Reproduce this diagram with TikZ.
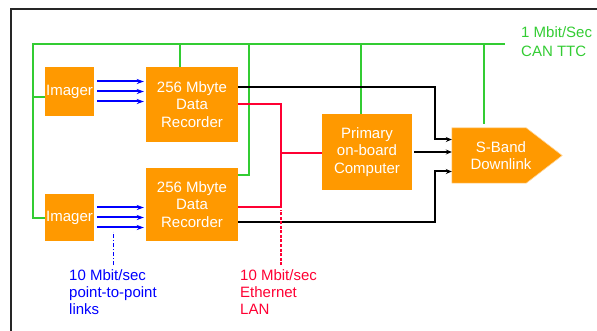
\documentclass[tikz,border=0pt]{standalone}
\usepackage{fontspec}
\setmainfont{Liberation Sans}
\usepackage{tikz}
\usetikzlibrary{arrows.meta}

\definecolor{unitorange}{HTML}{FF9900}
\definecolor{cangreen}{HTML}{33CC33}
\definecolor{lanred}{HTML}{FF0033}
\definecolor{linkblue}{HTML}{0000FF}

\tikzset{
  unit/.style={fill=unitorange, text=white, inner sep=0pt, align=center,
               font=\fontsize{15}{17.5}\selectfont},
  lbl/.style={inner sep=0pt, align=left, anchor=north west,
              font=\fontsize{15}{17}\selectfont},
  can/.style={cangreen, line width=2pt},
  lan/.style={lanred, line width=2pt},
  landash/.style={lanred, line width=1.6pt, dash pattern=on 3pt off 1.5pt},
  link/.style={linkblue, line width=2pt, -{Stealth[length=7pt,width=5pt]}},
  linkdash/.style={linkblue, line width=0.7pt, dash pattern=on 4pt off 2pt on 1pt off 2pt},
  tm/.style={black, line width=2pt, -{Stealth[length=6pt,width=5pt]}},
}

\begin{document}
\begin{tikzpicture}[x=1pt, y=-1pt]
\useasboundingbox (0,0) rectangle (597,331);

% frame
\draw[line width=1.5pt, black!85] (11,331) -- (11,9) -- (597,9);

% units
\node[unit, minimum width=49pt, minimum height=49pt]  (img1)  at (  69.5,  91.5 )  {Imager};
\node[unit, minimum width=49pt, minimum height=47pt]  (img2)  at (  69.5, 217.5 )  {Imager};
\node[unit, minimum width=92pt, minimum height=75pt]  (rec1)  at ( 192,   104.5 )  {256 Mbyte\\Data\\Recorder};
\node[unit, minimum width=92pt, minimum height=73pt]  (rec2)  at ( 192,   204.5 )  {256 Mbyte\\Data\\Recorder};
\node[unit, minimum width=90pt, minimum height=76pt]  (cpu)   at ( 367,   152   )  {Primary\\on-board\\Computer};
\node[inner sep=0pt, minimum width=110pt, minimum height=55pt] (sband) at ( 507, 155.5 ) {};
\fill[unitorange, draw=unitorange!40!white, line width=0.6pt]
    (sband.north west) -- ([xshift=-36pt]sband.north east) -- (sband.east)
    -- ([xshift=-36pt]sband.south east) -- (sband.south west) -- cycle;
\node[unit, fill=none] at ([xshift=-6pt]sband.center) {S-Band\\Downlink};

% CAN bus
\coordinate (busL) at ( 33, 44 );
\coordinate (busR) at ( 505, 44 );
\draw[can] (busR) -- (busL) |- ([yshift=-0.5pt]img2.west);
\draw[can] ([yshift=-5.5pt]img1.west) -| (busL);
\draw[can] ([xshift=-12pt]rec1.north) |- (busL);
\draw[can] ([yshift=-7pt]rec2.north east) -- ++(11,0) |- (busL);
\draw[can] ([xshift=-6pt]cpu.north) |- (busL);
\draw[can] ([xshift=-23pt,yshift=4pt]sband.north) |- (busL);
\node[lbl, cangreen] (canlbl) at ( 521, 26 ) {1 Mbit/Sec\\[2pt]CAN TTC};

% point-to-point links
\draw[link, shorten <=3pt, shorten >=2pt] ([yshift=10pt]img1.east) -- ([yshift=10pt]img1.east -| rec1.west);
\draw[link, shorten <=3pt, shorten >=2pt] (img1.east) -- (img1.east -| rec1.west);
\draw[link, shorten <=3pt, shorten >=2pt] ([yshift=-10pt]img1.east) -- ([yshift=-10pt]img1.east -| rec1.west);
\draw[link, shorten <=3pt, shorten >=2pt] ([yshift=10pt]img2.east) -- ([yshift=10pt]img2.east -| rec2.west);
\draw[link, shorten <=3pt, shorten >=2pt] (img2.east) -- (img2.east -| rec2.west);
\draw[link, shorten <=3pt, shorten >=2pt] ([yshift=-10pt]img2.east) -- ([yshift=-10pt]img2.east -| rec2.west);
\coordinate (linkend) at ( 113, 265 );
\draw[linkdash] (linkend) -- ++(0,-33);
\node[lbl, linkblue] (linklbl) at ( 69, 269 ) {10 Mbit/sec\\point-to-point\\links};

% downlink feeds
\draw[tm] ([yshift=-20pt]rec1.north east) -- ++(197,0) |- ([yshift=16pt]sband.west);
\draw[tm, shorten <=2pt] (cpu.east) -- (cpu.east -| sband.west);
\draw[tm] ([yshift=19pt]rec2.south east) -- ++(197,0) |- ([yshift=-16pt]sband.west);

% Ethernet LAN
\coordinate (lan) at ( 281, 153 );
\draw[lan] (rec1.east) -| (lan);
\draw[lan] ([yshift=-2.5pt]rec2.east) -| (lan);
\draw[lan] (lan) -- (cpu.west |- lan);
\coordinate (lanend) at ( 281, 265 );
\draw[landash] (lanend) -- ++(0,-55);
\node[lbl, lanred] (lanlbl) at ( 240, 269 ) {10 Mbit/sec\\Ethernet\\LAN};
\end{tikzpicture}
\end{document}
